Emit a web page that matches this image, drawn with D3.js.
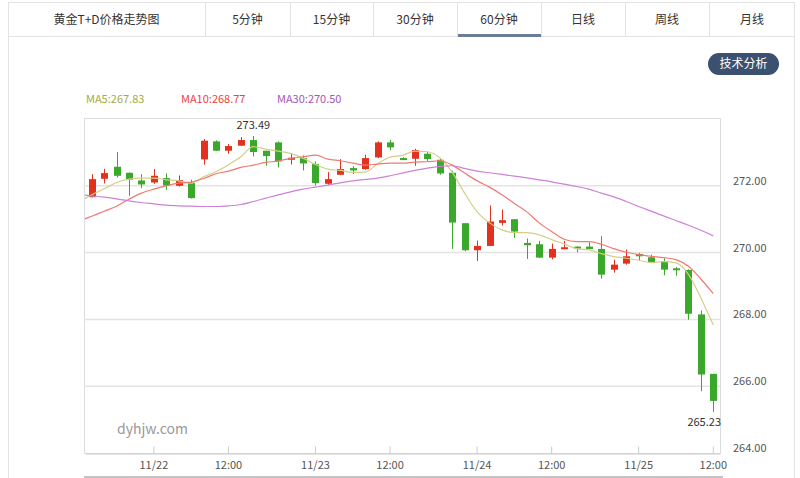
<!DOCTYPE html>
<html>
<head>
<meta charset="utf-8">
<script src="https://cdn.jsdelivr.net/npm/d3@7/dist/d3.min.js"></script>
<style>
  body { margin: 0; background: #fff; }
  svg { display: block; font-family: "Noto Sans CJK SC", "Noto Sans", sans-serif; }
</style>
</head>
<body>
<div id="chart"></div>
<script>
// tabs across the top
var tabLabels = ["黄金T+D价格走势图", "5分钟", "15分钟", "30分钟", "60分钟", "日线", "周线", "月线"];
var tabEdges = [8, 205, 290, 373, 457, 541, 625, 709, 795];
var activeTab = 4;

// hourly candles
var openV  = [271.66, 272.21, 272.57, 272.39, 272.16, 272.10, 272.23, 272.00, 272.08, 272.79,
              273.33, 273.05, 273.20, 273.37, 273.05, 273.30, 272.78, 272.83, 272.65, 272.06,
              272.33, 272.53, 272.50, 272.85, 273.30, 272.83, 272.81, 272.96, 272.78, 272.39,
              270.88, 270.07, 270.20, 270.89, 271.00, 270.29, 270.25, 269.85, 270.10, 270.18,
              270.18, 270.11, 269.49, 269.67, 269.96, 269.86, 269.74, 269.53, 269.48, 268.15, 266.37];
var closeV = [272.20, 272.38, 272.30, 272.18, 272.04, 272.30, 272.01, 272.17, 271.63, 273.35,
              273.05, 273.19, 273.37, 273.01, 272.89, 272.73, 272.84, 272.67, 272.08, 272.20,
              272.50, 272.46, 272.83, 273.30, 273.15, 272.80, 273.07, 272.80, 272.37, 270.90,
              270.07, 270.20, 270.93, 270.97, 270.63, 270.22, 269.85, 270.11, 270.16, 270.15,
              270.11, 269.34, 269.64, 269.89, 269.89, 269.72, 269.49, 269.47, 268.17, 266.35, 265.56];
var highV  = [272.35, 272.51, 273.01, 272.40, 272.35, 272.50, 272.37, 272.31, 272.18, 273.40,
              273.36, 273.25, 273.46, 273.49, 273.05, 273.33, 272.98, 272.91, 272.73, 272.41,
              272.80, 272.59, 272.93, 273.33, 273.37, 272.86, 273.11, 273.03, 272.80, 272.45,
              270.88, 270.36, 271.41, 271.29, 271.00, 270.42, 270.35, 270.27, 270.35, 270.19,
              270.31, 270.49, 269.79, 270.09, 269.99, 269.94, 269.83, 269.57, 269.50, 268.27, 266.37];
var lowV   = [271.65, 272.07, 272.25, 271.70, 271.93, 272.06, 271.88, 271.98, 271.62, 272.63,
              273.04, 272.96, 273.19, 272.88, 272.60, 272.55, 272.64, 272.46, 272.01, 272.03,
              272.32, 272.35, 272.48, 272.83, 273.07, 272.78, 272.60, 272.73, 272.33, 270.11,
              270.04, 269.75, 270.20, 270.81, 270.44, 269.81, 269.84, 269.80, 270.10, 270.01,
              270.10, 269.22, 269.40, 269.64, 269.77, 269.71, 269.32, 269.31, 267.99, 265.85, 265.23];

// moving average lines (first value is the hour just before the window, clipped at the edge)
var ma5  = [271.52, 271.73, 271.91, 272.10, 272.20, 272.23, 272.23, 272.18, 272.15, 272.08, 272.27,
            272.42, 272.63, 272.87, 273.17, 273.10, 273.04, 272.97, 272.83, 272.64, 272.50,
            272.46, 272.40, 272.41, 272.66, 272.86, 272.91, 273.04, 273.02, 272.84, 272.40,
            271.78, 271.22, 270.89, 270.68, 270.60, 270.60, 270.53, 270.39, 270.26, 270.12,
            270.08, 269.97, 269.88, 269.83, 269.77, 269.70, 269.73, 269.69, 269.35, 268.64, 267.83];
var ma10 = [270.95, 271.09, 271.24, 271.39, 271.60, 271.78, 271.90, 272.00, 272.08, 272.11, 272.22,
            272.36, 272.44, 272.55, 272.62, 272.70, 272.74, 272.82, 272.87, 272.92, 272.80,
            272.75, 272.68, 272.62, 272.65, 272.68, 272.68, 272.71, 272.72, 272.75, 272.62,
            272.38, 272.15, 271.96, 271.73, 271.47, 271.22, 270.89, 270.63, 270.40, 270.33,
            270.33, 270.25, 270.12, 270.01, 269.94, 269.89, 269.85, 269.79, 269.59, 269.21, 268.77];
var ma30 = [271.74, 271.70, 271.66, 271.61, 271.55, 271.50, 271.46, 271.42, 271.40, 271.39, 271.38,
            271.38, 271.40, 271.44, 271.53, 271.63, 271.73, 271.82, 271.90, 271.96, 272.02,
            272.09, 272.15, 272.19, 272.23, 272.30, 272.38, 272.46, 272.53, 272.58, 272.60,
            272.52, 272.44, 272.39, 272.34, 272.29, 272.24, 272.18, 272.12, 272.05, 271.98,
            271.90, 271.78, 271.67, 271.53, 271.38, 271.24, 271.10, 270.96, 270.82, 270.67, 270.50];

var maNames  = ["MA5", "MA10", "MA30"];
var maLast   = ["267.83", "268.77", "270.50"];
var maLegendX = [86, 181, 277];

var xTickIdx = [5, 11, 18, 24, 31, 37, 44, 50];
var xTickLabels = ["11/22", "12:00", "11/23", "12:00", "11/24", "12:00", "11/25", "12:00"];
var yTicks = [264, 266, 268, 270, 272];

var W = 800, H = 478;
var plot = { left: 84, right: 720, top: 118, bottom: 453 };
var upColor = "#e2321f", downColor = "#3aa82b";
var maLineColors = ["#d3cf88", "#f07a72", "#cf80d8"];
var maTextColors = ["#a3aa45", "#e8453c", "#a257b2"];

var svg = d3.select("#chart").append("svg")
    .attr("width", W)
    .attr("height", H);

// ---- tab bar ----
var tabs = svg.append("g");
tabs.append("rect")
    .attr("x", 8.5).attr("y", 2.5)
    .attr("width", 786).attr("height", 34)
    .attr("fill", "#fff").attr("stroke", "#e3e3e3");
tabs.selectAll(".div")
    .data(tabEdges.slice(1, -1))
    .enter().append("line")
    .attr("x1", function (d) { return d + 0.5; })
    .attr("x2", function (d) { return d + 0.5; })
    .attr("y1", 3).attr("y2", 36)
    .attr("stroke", "#e3e3e3");
tabs.selectAll(".tab")
    .data(tabLabels)
    .enter().append("text")
    .attr("x", function (d, i) { return (tabEdges[i] + tabEdges[i + 1]) / 2; })
    .attr("y", 24)
    .attr("text-anchor", "middle")
    .attr("font-size", 12)
    .attr("fill", "#333")
    .text(function (d) { return d; });
tabs.append("rect")
    .attr("x", tabEdges[activeTab] + 1).attr("y", 34)
    .attr("width", tabEdges[activeTab + 1] - tabEdges[activeTab] - 1).attr("height", 3)
    .attr("fill", "#6a7e9c");

// panel side borders
svg.append("line").attr("x1", 8.5).attr("x2", 8.5).attr("y1", 36).attr("y2", H).attr("stroke", "#e3e3e3");
svg.append("line").attr("x1", 794.5).attr("x2", 794.5).attr("y1", 36).attr("y2", H).attr("stroke", "#e3e3e3");

// button
svg.append("rect")
    .attr("x", 708).attr("y", 53).attr("width", 71).attr("height", 22)
    .attr("rx", 11).attr("fill", "#3c5070");
svg.append("text")
    .attr("x", 743.5).attr("y", 68)
    .attr("text-anchor", "middle")
    .attr("font-size", 12)
    .attr("fill", "#fff")
    .text("技术分析");

// legend
svg.selectAll(".leg")
    .data(maNames)
    .enter().append("text")
    .attr("x", function (d, i) { return maLegendX[i]; })
    .attr("y", 103)
    .attr("font-size", 11)
    .attr("fill", function (d, i) { return maTextColors[i]; })
    .text(function (d, i) { return d + ":" + maLast[i]; });

// ---- scales ----
var idx = d3.range(openV.length);
var x = d3.scaleBand()
    .domain(idx)
    .range([plot.left + 1.5, plot.right - 0.5]);
var y = d3.scaleLinear()
    .domain([264, 274])
    .range([plot.bottom, plot.top + 1]);
var cx = function (i) { return x(0) + x.step() * i + x.bandwidth() / 2; };

svg.append("clipPath").attr("id", "plotclip")
    .append("rect")
    .attr("x", plot.left + 1).attr("y", plot.top)
    .attr("width", plot.right - plot.left - 1).attr("height", plot.bottom - plot.top);

// plot frame + grid
svg.append("rect")
    .attr("x", plot.left + 0.5).attr("y", plot.top + 0.5)
    .attr("width", plot.right - plot.left).attr("height", plot.bottom - plot.top)
    .attr("fill", "none").attr("stroke", "#dcdcdc");
svg.append("g")
    .selectAll("line")
    .data(yTicks.slice(1))
    .enter().append("line")
    .attr("x1", plot.left).attr("x2", plot.right)
    .attr("y1", function (d) { return y(d); })
    .attr("y2", function (d) { return y(d); })
    .attr("stroke", "#e4e4e4")
    .attr("stroke-width", 1.5);

// y axis on the right
var yAxis = svg.append("g")
    .attr("transform", "translate(" + plot.right + ",0)")
    .call(d3.axisRight(y).tickValues(yTicks).tickFormat(d3.format(".2f")).tickSize(0).tickPadding(13));
yAxis.select(".domain").remove();
yAxis.selectAll("text")
    .attr("dy", "-0.13em")
    .attr("font-size", 11)
    .attr("font-family", "\"Noto Sans CJK SC\", sans-serif")
    .attr("fill", "#555");

// x axis at bottom, ticks pointing up
var xAxis = svg.append("g")
    .attr("transform", "translate(0," + (plot.bottom + 0.5) + ")")
    .call(d3.axisBottom(x)
        .tickValues(xTickIdx)
        .tickFormat(function (d) { return xTickLabels[xTickIdx.indexOf(d)]; })
        .tickSizeInner(-7).tickSizeOuter(0).tickPadding(8));
xAxis.select(".domain").attr("stroke", "#ccc");
xAxis.selectAll(".tick line").attr("stroke", "#ccc");
xAxis.selectAll("text")
    .attr("font-size", 11)
    .attr("font-family", "\"Noto Sans CJK SC\", sans-serif")
    .attr("fill", "#555");

// bottom scroll strip
svg.append("rect")
    .attr("x", plot.left).attr("y", 476)
    .attr("width", plot.right - plot.left + 3).attr("height", 2)
    .attr("fill", "#c4c4c4");

// watermark
svg.append("text")
    .attr("x", 117).attr("y", 434)
    .attr("font-size", 14)
    .attr("fill", "#999")
    .text("dyhjw.com");

// ---- candles ----
var candles = svg.append("g").selectAll("g")
    .data(idx)
    .enter().append("g");
var colorOf = function (i) { return closeV[i] >= openV[i] ? upColor : downColor; };
candles.append("line")
    .attr("x1", function (i) { return Math.round(cx(i)) + 0.5; })
    .attr("x2", function (i) { return Math.round(cx(i)) + 0.5; })
    .attr("y1", function (i) { return y(highV[i]); })
    .attr("y2", function (i) { return y(lowV[i]); })
    .attr("stroke", colorOf);
candles.append("rect")
    .attr("x", function (i) { return Math.round(cx(i)) - 3; })
    .attr("width", 7)
    .attr("y", function (i) { return y(Math.max(openV[i], closeV[i])); })
    .attr("height", function (i) { return Math.max(2, Math.abs(y(openV[i]) - y(closeV[i]))); })
    .attr("fill", colorOf);

// ---- MA lines (index shifted by one for the leading prior point) ----
var line = d3.line()
    .curve(d3.curveMonotoneX)
    .x(function (d, i) { return cx(i - 1); })
    .y(function (d) { return y(d); });
var maGroup = svg.append("g").attr("clip-path", "url(#plotclip)");
[ma5, ma10, ma30].forEach(function (s, k) {
    maGroup.append("path")
        .attr("d", line(s))
        .attr("fill", "none")
        .attr("stroke", maLineColors[k])
        .attr("stroke-width", 1.2);
});

// high / low markers
var hiIdx = d3.maxIndex(highV), loIdx = d3.minIndex(lowV);
svg.append("text")
    .attr("x", cx(hiIdx)).attr("y", y(highV[hiIdx]) - 7)
    .attr("text-anchor", "middle")
    .attr("font-size", 11).attr("fill", "#333")
    .text(highV[hiIdx].toFixed(2));
svg.append("text")
    .attr("x", plot.right + 1).attr("y", y(lowV[loIdx]) + 14)
    .attr("text-anchor", "end")
    .attr("font-size", 11).attr("fill", "#333")
    .text(lowV[loIdx].toFixed(2));
</script>
</body>
</html>
